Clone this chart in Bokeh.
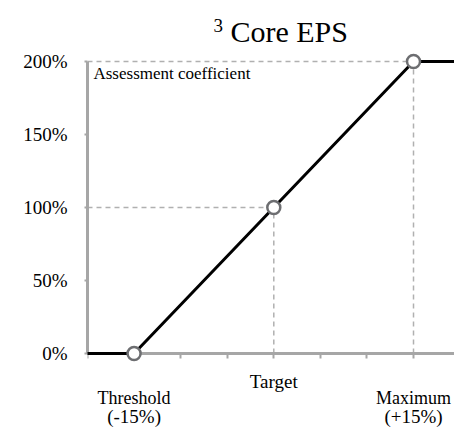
from bokeh.plotting import figure
from bokeh.models import Range1d, LinearAxis, FixedTicker, PrintfTickFormatter, Label
from bokeh.embed import file_html
from bokeh.resources import INLINE

# ---- data ----
curve_x = [-20, -15, 15, 20]          # performance vs target (%)
curve_y = [0, 0, 200, 200]            # assessment coefficient (%)
point_x = [-15, 0, 15]
point_y = [0, 100, 200]
milestone_names = ["Threshold", "Target", "Maximum"]
milestone_pcts = ["(-15%)", "", "(+15%)"]
x_ticks = [-20, -15, -10, -5, 0, 5, 10, 15, 20]
y_ticks = [0, 50, 100, 150, 200]
# reference (dashed) lines: (x0, y0, x1, y1)
ref_x0 = [-20, -20, 0, 15]
ref_y0 = [200, 100, 0, 0]
ref_x1 = [15, 0, 0, 15]
ref_y1 = [200, 100, 100, 200]

FONT = "Liberation Serif"
GRAY = "#a6a6a6"

p = figure(width=454, height=428, output_backend="svg", toolbar_location=None,
           x_range=Range1d(-20, 19.4), y_range=Range1d(-51.4, 241.8),
           x_axis_type=None, y_axis_type=None,
           min_border_left=87, min_border_right=0, min_border_top=0, min_border_bottom=0)
p.title.visible = False
p.outline_line_color = None
p.xgrid.visible = False
p.ygrid.visible = False
p.background_fill_color = "white"
p.border_fill_color = "white"

# axes
xa = LinearAxis(ticker=FixedTicker(ticks=x_ticks), fixed_location=0)
xa.axis_line_color = GRAY
xa.axis_line_width = 3
xa.major_tick_line_color = GRAY
xa.major_tick_line_width = 2
xa.major_tick_in = 0
xa.major_tick_out = 5
xa.minor_tick_line_color = None
xa.major_label_text_color = None
xa.major_label_text_font_size = "1px"
p.add_layout(xa, "below")

ya = LinearAxis(ticker=FixedTicker(ticks=y_ticks),
                formatter=PrintfTickFormatter(format="%d%%"), bounds=(0, 200))
ya.axis_line_color = GRAY
ya.axis_line_width = 3
ya.major_tick_line_color = GRAY
ya.major_tick_line_width = 2
ya.major_tick_in = 0
ya.major_tick_out = 3
ya.minor_tick_line_color = None
ya.major_label_text_font = FONT
ya.major_label_text_font_size = "19px"
ya.major_label_text_color = "black"
ya.major_label_standoff = 17
p.add_layout(ya, "left")

# dashed reference lines
p.segment(x0=ref_x0, y0=ref_y0, x1=ref_x1, y1=ref_y1, line_color="#b0b0b0",
          line_width=1.5, line_dash="5 4")

# payout curve
p.line(curve_x, curve_y, line_color="black", line_width=3, level="overlay")
p.scatter(point_x, point_y, marker="circle", size=13, fill_color="white",
          line_color="#6d6e71", line_width=2.5, level="overlay")

# texts
p.add_layout(Label(x=-19.36, y=191.8, text="Assessment coefficient", text_font=FONT,
                   text_font_size="17px", text_color="black", text_baseline="middle"))
p.add_layout(Label(x=-6.47, y=224.6, text="3", text_font=FONT, text_font_size="19px",
                   text_color="black", text_baseline="middle"))
p.add_layout(Label(x=-4.65, y=220.9, text="Core EPS", text_font=FONT, text_font_size="30px",
                   text_color="black", text_baseline="middle"))

for mx, name, pct in zip(point_x, milestone_names, milestone_pcts):
    if pct:
        p.add_layout(Label(x=mx, y=-30.6, text=name, text_font=FONT, text_font_size="18px",
                           text_align="center", text_baseline="middle", text_color="black"))
        p.add_layout(Label(x=mx, y=-43.2, text=pct, text_font=FONT, text_font_size="19px",
                           text_align="center", text_baseline="middle", text_color="black"))
    else:
        p.add_layout(Label(x=mx, y=-19.2, text=name, text_font=FONT, text_font_size="19px",
                           text_align="center", text_baseline="middle", text_color="black"))

open("out.html", "w").write(file_html(p, INLINE))
